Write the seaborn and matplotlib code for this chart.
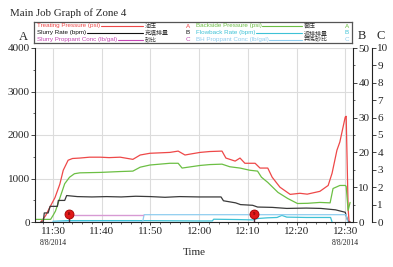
import numpy as np
import pandas as pd
import seaborn as sns
import matplotlib.pyplot as plt
from matplotlib.ticker import MultipleLocator, FixedLocator

sns.set_theme(style="ticks")
plt.rcParams['font.family'] = ['Liberation Serif', 'DejaVu Serif']

# time axis: minutes after 11:00 on 8/8/2014
tick_minutes = [30, 40, 50, 60, 70, 80, 90]
tick_labels = ['11:30', '11:40', '11:50', '12:00', '12:10', '12:20', '12:30']
date_label = '8/8/2014'

# Treating Pressure (psi) -> axis A
treat_t = [27.5, 28.5, 29.4, 30.4, 31.4, 32.1, 33.1, 34.0, 35.5, 37.5, 39.7, 41.5, 43.8, 46.4,
           47.9, 49.9, 52.0, 54.0, 55.7, 57.1, 58.1, 60.2, 62.2, 64.7, 65.5, 67.4, 68.4, 69.4,
           71.5, 72.5, 74.1, 75.0, 76.6, 78.7, 80.7, 82.2, 84.8, 86.5, 87.3, 88.3, 88.9, 90.0,
           90.2, 90.6, 90.8, 91.0]
treat_psi = [0, 150, 350, 560, 870, 1190, 1420, 1460, 1470, 1490, 1490, 1480, 1490, 1440,
             1540, 1580, 1590, 1600, 1630, 1540, 1560, 1600, 1620, 1630, 1470, 1400, 1470, 1350,
             1350, 1240, 1240, 1030, 800, 635, 660, 640, 705, 840, 1120, 1650, 1840, 2410,
             2430, 300, 0, 0]

# Backside Pressure (psi) -> axis A
back_t = [26.3, 28.0, 29.5, 30.0, 30.5, 31.4, 32.4, 33.4, 34.4, 35.5, 39.7, 43.8, 46.4, 47.9,
          49.9, 54.0, 55.7, 56.5, 60.2, 62.2, 64.7, 66.3, 68.4, 70.4, 72.0, 72.8, 74.1, 76.2,
          78.2, 80.2, 82.3, 84.8, 86.9, 87.5, 88.9, 90.0, 90.2, 90.6, 91.0]
back_psi = [60, 60, 60, 150, 250, 550, 880, 1030, 1110, 1130, 1140, 1160, 1170, 1260,
            1310, 1350, 1350, 1240, 1300, 1320, 1330, 1270, 1240, 1190, 1170, 1030, 910, 680,
            540, 425, 430, 450, 440, 770, 840, 840, 820, 265, 450]

# Slurry Rate (bpm) -> axis B
rate_t = [27.5, 28.0, 28.2, 29.0, 29.4, 30.9, 31.1, 32.4, 32.8, 35.0, 38.0, 41.0, 44.0, 47.0,
          50.0, 53.0, 56.0, 60.0, 64.5, 65.0, 67.5, 68.5, 71.0, 72.0, 75.0, 78.0, 82.0, 85.0,
          88.0, 90.0, 90.6, 91.0]
rate_bpm = [0, 0, 2.6, 2.6, 4.5, 4.5, 6.2, 6.2, 7.6, 7.3, 7.2, 7.3, 7.2, 7.4,
            7.3, 7.1, 7.3, 7.2, 7.2, 6.1, 5.5, 5.0, 4.8, 4.3, 4.2, 3.9, 4.0, 3.9,
            3.5, 2.8, 0, 0]

# Flowback Rate (bpm) -> axis B
flow_t = [30.0, 33.0, 47.0, 60.0, 62.7, 63.0, 68.0, 71.0, 72.0, 74.0, 76.0, 77.0, 78.0, 82.0,
          87.0, 87.3]
flow_bpm = [0.2, 0.4, 0.4, 0.3, 0.3, 0.8, 0.7, 0.6, 1.0, 1.2, 1.3, 1.9, 1.4, 1.3,
            1.3, 0]

# Slurry Proppant Conc (lb/gal) -> axis C
slurry_t = [33.3, 48.4]
slurry_conc = [0.42, 0.42]

# BH Proppant Conc (lb/gal) -> axis C
bh_t = [30.0, 48.4, 48.7, 90.2, 90.5]
bh_conc = [0.0, 0.0, 0.42, 0.42, 0.0]

# stage markers
event_t = [33.3, 71.3]
event_conc = [0.45, 0.48]
event_labels = ['8', '9']

c_treat = '#ee4848'
c_back = '#6cbf44'
c_rate = '#3a3a3a'
c_flow = '#3ec2d6'
c_slurry = '#c447b4'
c_bh = '#8fcdef'

fig = plt.figure(figsize=(3.93, 2.67), dpi=100)
ax = fig.add_axes([35 / 393, 45 / 267, 318 / 393, 174 / 267])
ax2 = ax.twinx()
ax3 = ax.twinx()

sns.lineplot(x=treat_t, y=treat_psi, ax=ax, color=c_treat, lw=0.9)
sns.lineplot(x=back_t, y=back_psi, ax=ax, color=c_back, lw=0.9)
sns.lineplot(x=rate_t, y=rate_bpm, ax=ax2, color=c_rate, lw=0.9)
sns.lineplot(x=flow_t, y=flow_bpm, ax=ax2, color=c_flow, lw=0.9)
sns.lineplot(x=bh_t, y=bh_conc, ax=ax3, color=c_bh, lw=0.9)
sns.lineplot(x=slurry_t, y=slurry_conc, ax=ax3, color='#d79ad4', lw=1.0)

ax3.vlines(event_t, 0, event_conc, color='#4a2a40', lw=1.0)
ax3.scatter(event_t, event_conc, s=42, color='#e01818', edgecolor='#a00000', lw=0.6, zorder=5)
for t, c, lab in zip(event_t, event_conc, event_labels):
    ax3.text(t, c, lab, fontsize=3.5, ha='center', va='center', color='#400000', zorder=6)

ax.set_xlim(26.3, 91.6)
ax.set_ylim(0, 4000)
ax2.set_ylim(0, 50)
ax3.set_ylim(0, 10)

ax.xaxis.set_major_locator(FixedLocator(tick_minutes))
ax.set_xticklabels(tick_labels)
ax.xaxis.set_minor_locator(MultipleLocator(2))
ax.yaxis.set_major_locator(MultipleLocator(1000))
ax.yaxis.set_minor_locator(MultipleLocator(500))
ax2.yaxis.set_major_locator(MultipleLocator(10))
ax2.yaxis.set_minor_locator(MultipleLocator(5))
ax3.yaxis.set_major_locator(MultipleLocator(1))

ax.grid(True, color='#dcdcdc', lw=0.8)
ax.set_axisbelow(True)
ax.set_ylabel('')
ax2.set_ylabel('')
ax3.set_ylabel('')

for a in (ax, ax2, ax3):
    a.tick_params(which='major', direction='out', length=2.8, width=0.6, labelsize=8, pad=1)
    a.tick_params(which='minor', direction='out', length=1.6, width=0.5)
    for s in a.spines.values():
        s.set_linewidth(0.8)
        s.set_color('#222222')
ax.tick_params(axis='x', which='major', length=2.5, pad=0.8)
ax.set_xlabel('Time', fontsize=8, labelpad=9)

ax.spines['top'].set_visible(False)
ax.spines['right'].set_visible(False)
for a in (ax2, ax3):
    a.spines['top'].set_visible(False)
    a.spines['left'].set_visible(False)
    a.spines['bottom'].set_visible(False)
ax3.spines['right'].set_position(('axes', 1.06))

for t in (tick_minutes[0], tick_minutes[-1]):
    ax.text(t, -0.122, date_label, transform=ax.get_xaxis_transform(),
            fontsize=5.5, ha='center', va='center')

fig.text(10 / 393, 1 - 13 / 267, 'Main Job Graph of Zone 4', fontsize=7.8, va='center')
fig.text(23 / 393, 1 - 37 / 267, 'A', fontsize=9, ha='center', va='center')
fig.text(362 / 393, 1 - 36 / 267, 'B', fontsize=9, ha='center', va='center')
fig.text(381 / 393, 1 - 36 / 267, 'C', fontsize=9, ha='center', va='center')

# legend box
lax = fig.add_axes([34 / 393, (267 - 43) / 267, 318 / 393, 21 / 267])
lax.set_xlim(0, 318)
lax.set_ylim(21, 0)
lax.set_xticks([])
lax.set_yticks([])
for s in lax.spines.values():
    s.set_linewidth(0.9)
    s.set_color('#555555')

legend_rows = [
    [('Treating Pressure (psi)', '油压', 'A', c_treat), ('Backside Pressure (psi)', '套压', 'A', c_back)],
    [('Slurry Rate (bpm)', '充填排量', 'B', '#111111'), ('Flowback Rate (bpm)', '返排排量', 'B', c_flow)],
    [('Slurry Proppant Conc (lb/gal)', '砂比', 'C', c_slurry), ('BH Proppant Conc (lb/gal)', '井底砂比', 'C', c_bh)],
]
col_x = [3, 162]
fig.canvas.draw()
renderer = fig.canvas.get_renderer()
inv = lax.transData.inverted()
for r, row in enumerate(legend_rows):
    y = 4 + r * 6.8
    for c, (name, cn, letter, col) in enumerate(row):
        x0 = col_x[c]
        txt = lax.text(x0, y, name, fontsize=4.5, color=col, va='center',
                       family=['Liberation Sans', 'DejaVu Sans'])
        bb = txt.get_window_extent(renderer)
        xe = inv.transform((bb.x1, bb.y0))[0]
        lax.plot([xe + 0.5, x0 + 106], [y, y], color=col, lw=0.8)
        lax.text(x0 + 108, y, cn, fontsize=4.3, color='#333333', va='center',
                 family=['Noto Sans CJK SC', 'DejaVu Sans'])
        lax.text(x0 + 151, y, letter, fontsize=4.5, color=col, va='center', ha='center',
                 family=['Liberation Sans', 'DejaVu Sans'])

fig.savefig('out.png', dpi=100)
